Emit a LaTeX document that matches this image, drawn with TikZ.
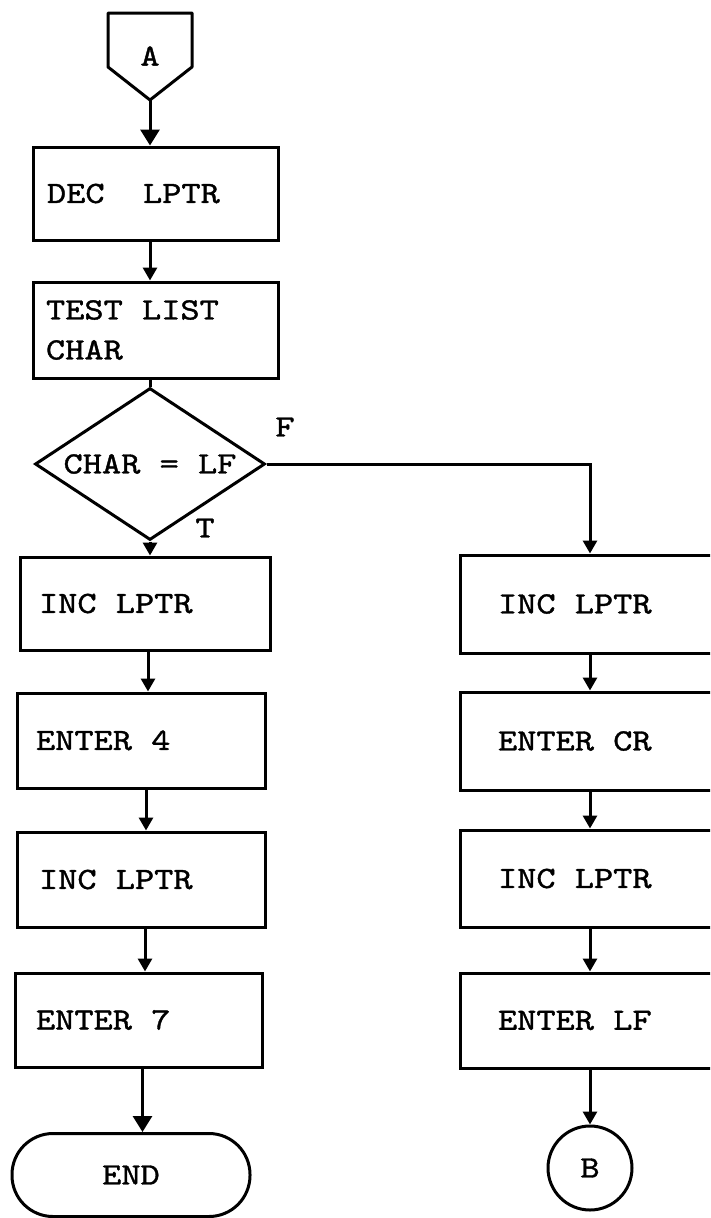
\documentclass[tikz,border=0pt]{standalone}
\usepackage{fontspec}
\usetikzlibrary{shapes.geometric,arrows.meta}
\newfontfamily\tw{lmmono10-regular.otf}[FakeStretch=1.18,FakeBold=1.2]
\begin{document}
\begin{tikzpicture}[x=1pt,y=-1pt,
  every node/.style={font=\tw\fontsize{31}{40}\selectfont},
  line/.style={line width=3pt},
  arr/.style={line, -{Triangle[width=14pt,length=13pt]}},
  bigarr/.style={line, -{Triangle[width=19pt,length=16pt]}},
  box/.style={draw, line width=3pt, rectangle, inner ysep=0pt, align=flush left},
  lbox/.style={box, inner xsep=18pt},
  rbox/.style={box, inner xsep=38pt, minimum width=260pt, text width=184pt},
  lbl/.style={inner sep=0pt}
]
\useasboundingbox (0,0) rectangle (710,1218);
\clip (0,0) rectangle (710,1218);

% off-page connector A
\draw[line, line join=round] (108,13) -- (192,13) -- (192,67) -- (150,100) -- (108,67) -- cycle;
\node[lbl] (A) at (150,56) {A};
\coordinate (Atip) at (150,100);

% left column
\node[lbox, inner xsep=14pt, minimum width=245pt, text width=217pt, minimum height=93pt] (dec) at (155.5,193.5) {DEC~ LPTR};
\node[lbox, inner xsep=13pt, minimum width=245pt, text width=219pt, minimum height=96pt] (test) at (155.5,330) {TEST LIST\\CHAR};
\node[draw, line width=3pt, diamond, aspect=1.51, inner sep=0pt, minimum width=230pt, minimum height=152pt] (dia) at (150,464) {CHAR = LF};
\node[lbox, inner xsep=19pt, minimum width=250pt, text width=212pt, minimum height=93pt] (inc1) at (145,603.5) {INC LPTR};
\node[lbox, inner xsep=19pt, minimum width=248pt, text width=210pt, minimum height=95pt] (ent4) at (141,740.5) {ENTER 4};
\node[lbox, inner xsep=22pt, minimum width=248pt, text width=204pt, minimum height=95pt] (inc3) at (141,879.5) {INC LPTR};
\node[lbox, inner xsep=21pt, minimum width=247pt, text width=205pt, minimum height=94pt] (ent7) at (138.5,1020) {ENTER 7};
\node[draw, line width=3pt, rectangle, rounded corners=41pt, minimum width=238pt, minimum height=83pt] (end) at (131,1175) {END};

% right column
\node[rbox, minimum height=98pt] (rinc1) at (590,604) {INC LPTR};
\node[rbox, minimum height=98pt] (rcr) at (590,741) {ENTER CR};
\node[rbox, minimum height=97pt] (rinc3) at (590,878.5) {INC LPTR};
\node[rbox, minimum height=95pt] (rlf) at (590,1020.5) {ENTER LF};
\node[draw, line width=3pt, circle, minimum size=84pt, inner sep=0pt] (B) at (590,1168) {B};

% labels
\node[lbl] (F) at (285,427) {F};
\node[lbl] (T) at (205,528) {T};

% connectors
\draw[bigarr] (Atip) -- (Atip |- dec.north);
\draw[arr] (Atip |- dec.south) -- (Atip |- test.north);
\draw[line] (dia.north |- test.south) -- (dia.north);
\draw[arr] (dia.south) -- (dia.south |- inc1.north);
\draw[arr] ([xshift=3pt]inc1.south) -- ([xshift=3pt]inc1.south |- ent4.north);
\draw[arr] ([xshift=5pt]ent4.south) -- ([xshift=5pt]ent4.south |- inc3.north);
\draw[arr] ([xshift=4pt]inc3.south) -- ([xshift=4pt]inc3.south |- ent7.north);
\draw[bigarr] ([xshift=4pt]ent7.south) -- ([xshift=4pt]ent7.south |- end.north);

\draw[arr] (dia.east) -| (rinc1.north);
\draw[arr] (rinc1.south) -- (rcr.north);
\draw[arr] (rcr.south) -- (rinc3.north);
\draw[arr] (rinc3.south) -- (rlf.north);
\draw[arr] (rlf.south) -- (B.north);
\end{tikzpicture}
\end{document}
